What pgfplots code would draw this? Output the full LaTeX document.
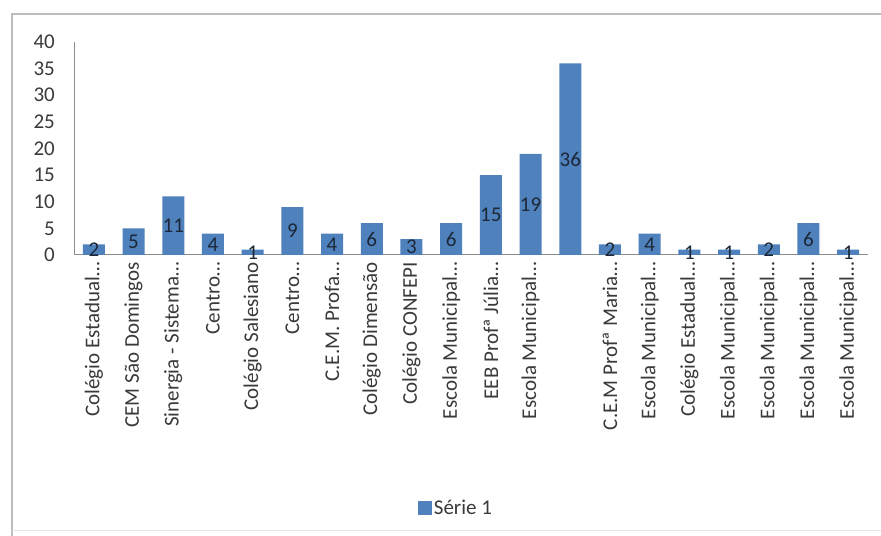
\documentclass[border=0pt]{standalone}
\usepackage{pgfplots}
\pgfplotsset{compat=1.18}
\usepackage{pgfplotstable}
\usepackage{fontspec}
\setmainfont{Carlito}

\definecolor{barblue}{HTML}{4F81BD}
\definecolor{axisgray}{HTML}{8C8C8C}
\definecolor{ticktext}{HTML}{3A3A3A}
\definecolor{labeltext}{HTML}{1C2838}
\definecolor{framegray}{HTML}{BDBDBD}
\newcommand\cfont{\fontsize{21bp}{24bp}\selectfont}

\pgfplotstableread{
x v
0 2
1 5
2 11
3 4
4 1
5 9
6 4
7 6
8 3
9 6
10 15
11 19
12 36
13 2
14 4
15 1
16 1
17 2
18 6
19 1
}\escolas

\begin{document}
\begin{tikzpicture}[x=1bp,y=1bp]
  \useasboundingbox (0,0) rectangle (881,536);
  \fill[white] (0,0) rectangle (881,536);
  % chart frame (left and top edges visible)
  \draw[framegray, line width=2bp] (12,0) -- (12,522) -- (881,522);
  \draw[framegray!40, line width=1bp] (12,5) -- (881,5);

  \begin{axis}[
    at={(74bp,281bp)}, anchor=south west,
    scale only axis, width=794bp, height=213bp,
    xmin=-0.5, xmax=19.5, ymin=0, ymax=40,
    ytick={0,5,...,40},
    xtick={0,...,19},
    xticklabels={Colégio Estadual…, CEM São Domingos, Sinergia - Sistema…, Centro…,
      Colégio Salesiano, Centro…, C.E.M. Profa…, Colégio Dimensão, Colégio CONFEPI,
      Escola Municipal…, EEB Profª Júlia…, Escola Municipal…, {}, C.E.M Profª Maria…,
      Escola Municipal…, Colégio Estadual…, Escola Municipal…, Escola Municipal…,
      Escola Municipal…, Escola Municipal…},
    axis x line*=bottom, axis y line*=left,
    axis line style={axisgray, line width=1bp},
    major tick length=0pt,
    /pgf/number format/assume math mode=true,
    tick label style={font=\cfont, text=ticktext, inner sep=0pt},
    yticklabel style={anchor=east, xshift=-19bp},
    xticklabel style={rotate=90, anchor=east},
    xticklabel shift=7bp,
    legend style={at={(0.481,-1.188)}, anchor=center, draw=none,
      font=\cfont, text=ticktext, inner sep=0pt},
    legend image code/.code={\fill[barblue] (0bp,-7bp) rectangle (14bp,7bp);},
  ]
    \addplot[ybar, bar width=22bp, bar shift=0pt, fill=barblue, draw=none]
      table[x=x, y=v] {\escolas};
    \addlegendentry{Série 1}

    \addplot[draw=none, mark=none, forget plot,
      nodes near coords, point meta=explicit,
      every node near coord/.append style={anchor=center, inner sep=0pt,
        font=\cfont, text=labeltext,
        /pgf/number format/assume math mode=true}]
      table[x=x, y expr=\thisrow{v}/2, meta=v] {\escolas};
  \end{axis}
\end{tikzpicture}
\end{document}
